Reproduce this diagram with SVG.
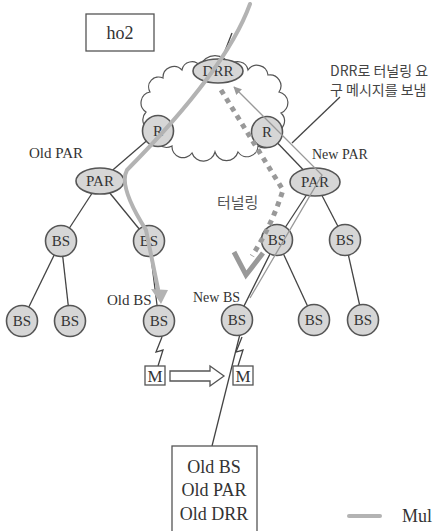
<svg xmlns="http://www.w3.org/2000/svg" width="433" height="531" viewBox="0 0 433 531">
<defs>
<style>
.node{fill:#d6d6d6;stroke:#555;stroke-width:1.6}
.lbl{font-family:"Liberation Serif","Times New Roman","DejaVu Serif",serif;font-size:15px;fill:#333;text-anchor:middle;dominant-baseline:central}
.txt{font-family:"Liberation Serif","Times New Roman","DejaVu Serif",serif;font-size:15px;fill:#333}
.kr{font-family:"Noto Sans CJK KR",sans-serif;font-size:14px;fill:#444}
.edge{stroke:#444;stroke-width:1.3;fill:none}
.mc{stroke:#b3b3b3;stroke-width:4;fill:none;stroke-linecap:round}
.thin{stroke:#999;stroke-width:1.3;fill:none}
.dot{stroke:#999;stroke-width:5;fill:none;stroke-dasharray:5 5}
.box{fill:#fff;stroke:#555;stroke-width:1.3}
</style>
<marker id="tri" viewBox="0 0 10 10" refX="9" refY="5" markerWidth="8" markerHeight="8" markerUnits="userSpaceOnUse" orient="auto">
<path d="M0,0 L10,5 L0,10 z" fill="#999"/>
</marker>
</defs>
<rect width="433" height="531" fill="#fff"/>

<g id="title">
<rect class="box" x="86" y="14" width="68" height="37"/>
<text class="lbl" x="120" y="33" style="font-size:18px">ho2</text>
</g>

<g id="cloud">
<path d="M146,112 A11,11 0 0 1 150,92 A10,10 0 0 1 163,78 A11,11 0 0 1 182,70 A10,10 0 0 1 200,66 A16,16 0 0 1 230,66 A10,10 0 0 1 248,70 A11,11 0 0 1 268,75 A11,11 0 0 1 279,92 A11,11 0 0 1 281,113 A11,11 0 0 1 274,132 A11,11 0 0 1 258,146 A11,11 0 0 1 238,152 A12,12 0 0 1 215,152 A12,12 0 0 1 192,153 A11,11 0 0 1 172,146 A12,12 0 0 1 155,132 A12,12 0 0 1 146,112 z" fill="#fff" stroke="#555" stroke-width="1.2"/>
</g>

<g id="connectors">
<line class="edge" x1="232" y1="33" x2="223" y2="56"/>
<line class="edge" x1="158" y1="131" x2="100" y2="181"/>
<line class="edge" x1="267" y1="132" x2="315" y2="182"/>
<line class="edge" x1="100" y1="181" x2="61" y2="241"/>
<line class="edge" x1="100" y1="181" x2="149" y2="241"/>
<line class="edge" x1="61" y1="241" x2="22" y2="321"/>
<line class="edge" x1="61" y1="241" x2="70" y2="321"/>
<line class="edge" x1="149" y1="241" x2="159" y2="321"/>
<line class="edge" x1="315" y1="182" x2="277" y2="240"/>
<line class="edge" x1="315" y1="182" x2="345" y2="240"/>
<line class="edge" x1="277" y1="240" x2="237" y2="320"/>
<line class="edge" x1="277" y1="240" x2="314" y2="320"/>
<line class="edge" x1="345" y1="240" x2="363" y2="320"/>
<line class="edge" x1="243" y1="322" x2="212" y2="446"/>
<line class="edge" x1="340" y1="97" x2="292" y2="143"/>
<path class="edge" d="M162,337 L156,352 L163,350 L158,366"/>
<path class="edge" d="M242,337 L236,352 L243,350 L238,366"/>
</g>

<g id="node-drr"><ellipse class="node" cx="218" cy="71" rx="25" ry="12"/><text class="lbl" x="218" y="71">DRR</text></g>
<g id="node-r-left"><circle class="node" cx="158" cy="131" r="15.5"/><text class="lbl" x="158" y="131">R</text></g>
<g id="node-r-right"><circle class="node" cx="267" cy="132" r="15.5"/><text class="lbl" x="267" y="132">R</text></g>
<g id="node-par-left"><ellipse class="node" cx="100" cy="181" rx="24" ry="13"/><text class="lbl" x="100" y="181">PAR</text></g>
<g id="node-par-right"><ellipse class="node" cx="315" cy="182" rx="25" ry="14"/><text class="lbl" x="315" y="182">PAR</text></g>
<g id="node-bs-l1"><circle class="node" cx="61" cy="241" r="15.5"/><text class="lbl" x="61" y="241">BS</text></g>
<g id="node-bs-l2"><circle class="node" cx="149" cy="241" r="15.5"/><text class="lbl" x="149" y="241">BS</text></g>
<g id="node-bs-l3"><circle class="node" cx="22" cy="321" r="15.5"/><text class="lbl" x="22" y="321">BS</text></g>
<g id="node-bs-l4"><circle class="node" cx="70" cy="321" r="15.5"/><text class="lbl" x="70" y="321">BS</text></g>
<g id="node-bs-old"><circle class="node" cx="159" cy="321" r="15.5"/><text class="lbl" x="159" y="321">BS</text></g>
<g id="node-bs-r1"><circle class="node" cx="277" cy="240" r="15.5"/><text class="lbl" x="277" y="240">BS</text></g>
<g id="node-bs-r2"><circle class="node" cx="345" cy="240" r="15.5"/><text class="lbl" x="345" y="240">BS</text></g>
<g id="node-bs-new"><circle class="node" cx="237" cy="320" r="15.5"/><text class="lbl" x="237" y="320">BS</text></g>
<g id="node-bs-r3"><circle class="node" cx="314" cy="320" r="15.5"/><text class="lbl" x="314" y="320">BS</text></g>
<g id="node-bs-r4"><circle class="node" cx="363" cy="320" r="15.5"/><text class="lbl" x="363" y="320">BS</text></g>

<g id="node-m-old"><rect class="box" x="145" y="366" width="20" height="19"/><text class="lbl" x="155" y="376" style="font-size:17px">M</text></g>
<g id="node-m-new"><rect class="box" x="233" y="366" width="20" height="19"/><text class="lbl" x="243" y="376" style="font-size:17px">M</text></g>

<g id="move-arrow">
<path d="M170,371 L210,371 L210,366 L224,376 L210,386 L210,381 L170,381 z" fill="#fff" stroke="#555" stroke-width="1.3"/>
</g>

<g id="overlays">
<path class="mc" d="M250,4 Q226,70 127,170 Q118,186 146,230 L158,289"/>
<path d="M151,289 L168,290 L161,304 z" fill="#b3b3b3"/>
<path class="thin" d="M250,298 L322,175 L234,87" marker-end="url(#tri)"/>
<path class="dot" d="M221,90 L283,190 Q272,225 252,256"/>
<path d="M234,252 L246,275 L263,253" fill="none" stroke="#999" stroke-width="5"/>
</g>

<g id="labels">
<text class="txt" x="29" y="158">Old PAR</text>
<text class="txt" x="312" y="159" style="font-size:14px">New PAR</text>
<text class="txt" x="107" y="305">Old BS</text>
<text class="txt" x="193" y="302" style="font-size:14px">New BS</text>
<text class="kr" x="330" y="76">DRR로 터널링 요</text>
<text class="kr" x="330" y="95">구 메시지를 보냄</text>
<text class="kr" x="217" y="208" style="font-size:15px;fill:#555">터널링</text>
</g>

<g id="info-box">
<rect class="box" x="172" y="446" width="85" height="100"/>
<text class="lbl" x="214" y="467" style="font-size:18px">Old BS</text>
<text class="lbl" x="214" y="490" style="font-size:18px">Old PAR</text>
<text class="lbl" x="214" y="514" style="font-size:18px">Old DRR</text>
</g>

<g id="legend">
<line class="mc" x1="349" y1="516" x2="380" y2="516" stroke-linecap="butt"/>
<text class="txt" x="402" y="522" style="font-size:18px">Mul</text>
</g>
</svg>
